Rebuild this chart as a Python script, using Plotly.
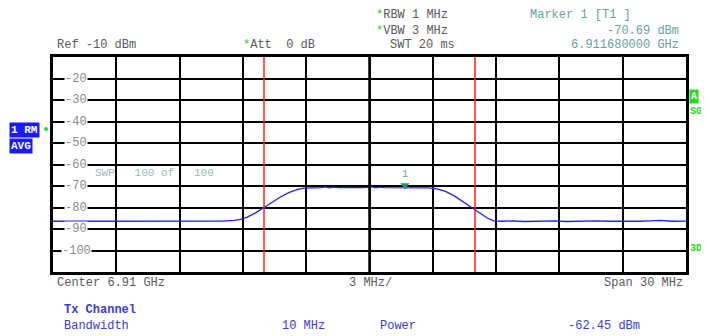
import plotly.graph_objects as go

# ---- data ----
center_ghz = 6.91
span_mhz = 30.0
offset_mhz = [-15, -13.5, -12, -10.5, -9, -8, -7, -6.4, -6.1, -5.8, -5.4, -5.0, -4.6, -4.2, -3.8, -3.4, -3.1,
              -2.5, -2.3, -2.1, -1.9, -1.7, -1.5, -1.2, -0.8, -0.4, -0.1, 0.1, 0.3, 0.5, 0.7, 1.2, 1.68,
              2.2, 2.8, 3.2, 3.6, 4.0, 4.4, 4.9, 5.3, 5.6, 5.9, 6.3, 6.8, 7.3, 7.8, 8.3, 8.8, 9.3, 9.8,
              10.3, 10.8, 11.3, 11.8, 12.3, 12.8, 13.3, 13.8, 14.3, 15]
level_dbm = [-86.4, -86.4, -86.4, -86.4, -86.4, -86.4, -86.3, -86.0, -85.5, -84.5, -82.5, -80.0, -77.5, -75.0, -73.0, -71.6, -71.0,
             -70.9, -70.8, -70.4, -70.9, -70.5, -70.8, -70.7, -70.9, -70.8, -70.6, -70.4, -70.9, -70.5, -70.8, -70.8, -70.69,
             -70.8, -70.9, -71.3, -72.5, -74.5, -77.0, -80.3, -83.0, -85.0, -86.2, -86.4, -86.2, -86.5, -86.3, -86.4, -86.2,
             -86.5, -86.3, -86.4, -86.2, -86.4, -86.5, -86.3, -86.4, -86.2, -86.0, -86.4, -86.3]
y_ticks = [-20, -30, -40, -50, -60, -70, -80, -90, -100]
channel_bw_mhz = 10.0
marker_offset_mhz = 1.68
marker_level = -70.69

freq_ghz = [center_ghz + o / 1000.0 for o in offset_mhz]
x0 = center_ghz - span_mhz / 2000.0
x1 = center_ghz + span_mhz / 2000.0

MONO = "Liberation Mono, Courier New, monospace"
GRAY = "#5a5a5a"
TEAL = "#6aa0a0"
BLUE = "#3b3bd6"
GREEN = "#22dd22"

# page has an 8px body margin: figure origin is at page (8, 8)
OFF = 8
W, H = 709 - OFF, 336 - OFF
L, R, T, B = 53 - OFF, 709 - 686, 57 - OFF, 336 - 272
pw, ph = W - L - R, H - T - B

def px(x):  # page x -> paper
    return (x - OFF - L) / pw

def py(y):  # page y -> paper
    return (H - B - (y - OFF)) / ph

fig = go.Figure()
fig.add_trace(go.Scatter(x=freq_ghz, y=level_dbm, mode="lines",
                         line=dict(color="#1f1fff", width=1.3), hoverinfo="skip"))
fig.add_trace(go.Scatter(x=[center_ghz + marker_offset_mhz / 1000.0], y=[marker_level + 1.0],
                         mode="markers+text", marker=dict(symbol="triangle-down", size=8, color="#2a8a8a"),
                         text=["1"], textposition="top center",
                         textfont=dict(family=MONO, size=11, color="#7aa0a0"), hoverinfo="skip"))

fig.update_layout(
    width=W, height=H,
    margin=dict(l=L, r=R, t=T, b=B),
    paper_bgcolor="white", plot_bgcolor="white",
    showlegend=False,
    font=dict(family=MONO, size=12, color=GRAY),
    xaxis=dict(range=[x0, x1], dtick=0.003, tick0=x0, showticklabels=False, ticks="",
               showgrid=True, gridcolor="black", gridwidth=1.5, zeroline=False,
               showline=True, linecolor="black", linewidth=2.5, mirror=True),
    yaxis=dict(range=[-110, -10], dtick=10, showticklabels=False, ticks="",
               showgrid=True, gridcolor="black", gridwidth=1.5, zeroline=False,
               showline=True, linecolor="black", linewidth=2.5, mirror=True),
)

fig.add_shape(type="line", xref="x", yref="paper", x0=center_ghz, x1=center_ghz, y0=0, y1=1,
              line=dict(color="black", width=2.5))
for s in (-1, 1):
    xc = center_ghz + s * channel_bw_mhz / 2000.0
    fig.add_shape(type="line", xref="x", yref="paper", x0=xc, x1=xc, y0=0, y1=1,
                  line=dict(color="#ff2020", width=1.5))

for v in y_ticks:
    fig.add_annotation(x=x0 + 0.0011, y=v, xref="x", yref="y", text=f"-{abs(v)}", showarrow=False,
                       xanchor="center", yanchor="middle", bgcolor="white", borderpad=0,
                       font=dict(family=MONO, size=12, color="#8a8a8a"))

def txt(x, y, t, anchor="left", color=GRAY, size=12, bold=False, bg=None):
    if bold:
        t = f"<b>{t}</b>"
    fig.add_annotation(x=px(x), y=py(y), xref="paper", yref="paper", text=t, showarrow=False,
                       xanchor=anchor, yanchor="middle", font=dict(family=MONO, size=size, color=color),
                       bgcolor=bg, borderpad=1)

txt(55, 45, "Ref -10 dBm")
txt(241, 45, "<span style='color:#22cc22'>*</span>Att  0 dB")
txt(374, 15, "<span style='color:#22cc22'>*</span>RBW 1 MHz")
txt(374, 31, "<span style='color:#22cc22'>*</span>VBW 3 MHz")
txt(388, 45, "SWT 20 ms")
txt(528, 15, "Marker 1 [T1 ]", color=TEAL)
txt(681, 31, "-70.69 dBm", anchor="right", color=TEAL)
txt(681, 45, "6.911680000 GHz", anchor="right", color=TEAL)

txt(93, 173, "SWP   100 of   100", color="#9ab8b8", size=11)

txt(9, 130, "1 RM", color="white", bg="#1a1aff", size=11, bold=True)
txt(9, 146, "AVG", color="white", bg="#1a1aff", size=11, bold=True)
fig.add_shape(type="circle", xref="paper", yref="paper", x0=px(44), x1=px(48), y0=py(131), y1=py(127),
              fillcolor=GREEN, line=dict(width=0))
txt(689, 96, "A", color="white", bg=GREEN, size=10, bold=True)
txt(688, 111, "SGL", color=GREEN, size=10, bold=True)
txt(688, 248, "3DB", color=GREEN, size=10, bold=True)

txt(55, 283, "Center 6.91 GHz")
txt(370, 283, "3 MHz/", anchor="center")
txt(685, 283, "Span 30 MHz", anchor="right")

txt(62, 310, "Tx Channel", color=BLUE, bold=True)
txt(62, 326, "Bandwidth", color=BLUE)
txt(280, 326, "10 MHz", color=BLUE)
txt(378, 326, "Power", color=BLUE)
txt(642, 326, "-62.45 dBm", anchor="right", color=BLUE)

fig.write_html("out.html")
